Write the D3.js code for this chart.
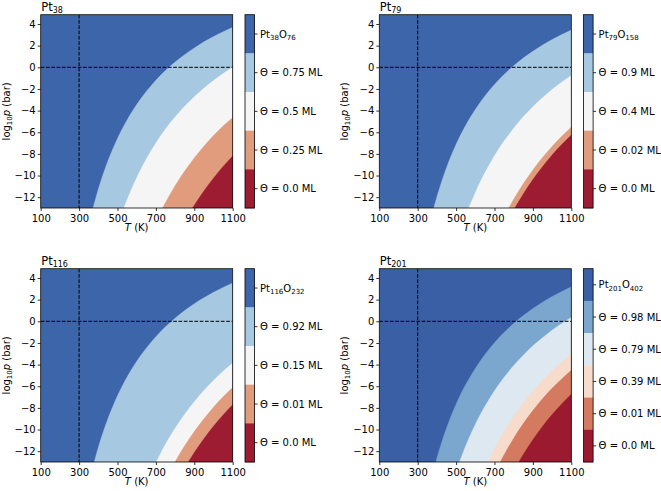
<!DOCTYPE html>
<html><head><meta charset="utf-8">
<script src="https://cdn.jsdelivr.net/npm/d3@7"></script>
<style>body{margin:0;background:#fff}text{font-family:"DejaVu Sans",sans-serif;fill:#000}</style>
</head><body><svg id="c" width="661" height="491"></svg>
<script>
// ---- data ----
const tempTicks = [100, 300, 500, 700, 900, 1100];
const pressureTicks = [-12, -10, -8, -6, -4, -2, 0, 2, 4];
const tempDomain = [100, 1100];
const pressureDomain = [-13, 4.86];
const refTemp = 300;
const refPressure = 0;

const clusterSizes = ["38", "79", "116", "201"];
const oxideSubs = [["38", "76"], ["79", "158"], ["116", "232"], ["201", "402"]];

const coveragePt38 = ["0.75", "0.5", "0.25", "0.0"];
const coveragePt79 = ["0.9", "0.4", "0.02", "0.0"];
const coveragePt116 = ["0.92", "0.15", "0.01", "0.0"];
const coveragePt201 = ["0.98", "0.79", "0.39", "0.01", "0.0"];

const colorsPt38 = ["#3d65a9", "#a6c8e1", "#f5f5f5", "#e09c7c", "#9e1c31"];
const colorsPt79 = ["#3d65a9", "#a6c8e1", "#f5f5f5", "#e09c7c", "#9e1c31"];
const colorsPt116 = ["#3d65a9", "#a6c8e1", "#f5f5f5", "#e09c7c", "#9e1c31"];
const colorsPt201 = ["#3a5fa5", "#7ba7cf", "#dde8f1", "#f8dccb", "#d47a60", "#9b1a2f"];

// phase boundaries: [T (K), log10 p (bar)]
const boundsPt38 = [
  [[372.5,-13],[400,-11.27],[450,-8.66],[500,-6.57],[550,-4.86],[600,-3.43],[700,-1.19],[800,0.48],[900,1.79],[1000,2.84],[1100,3.69]],
  [[533.4,-13],[550,-12.24],[600,-10.20],[650,-8.47],[700,-6.99],[750,-5.71],[800,-4.59],[850,-3.60],[900,-2.72],[950,-1.93],[1000,-1.22],[1050,-0.58],[1100,0.00]],
  [[735,-13],[750,-12.50],[800,-10.95],[850,-9.59],[900,-8.37],[950,-7.29],[1000,-6.31],[1050,-5.43],[1100,-4.63]],
  [[890.8,-13],[900,-12.74],[950,-11.43],[1000,-10.24],[1050,-9.17],[1100,-8.20]]
];
const boundsPt79 = [
  [[383.6,-13],[400,-11.96],[450,-9.27],[500,-7.12],[550,-5.36],[600,-3.90],[700,-1.59],[800,0.14],[900,1.48],[1000,2.56],[1100,3.44]],
  [[566.2,-13],[600,-11.58],[650,-9.75],[700,-8.18],[750,-6.82],[800,-5.63],[850,-4.58],[900,-3.64],[950,-2.81],[1000,-2.05],[1050,-1.37],[1100,-0.75]],
  [[774.6,-13],[800,-12.20],[850,-10.76],[900,-9.49],[950,-8.34],[1000,-7.31],[1050,-6.38],[1100,-5.54]],
  [[806.4,-13],[825,-12.43],[850,-11.70],[900,-10.37],[950,-9.18],[1000,-8.11],[1050,-7.14],[1100,-6.26]]
];
const boundsPt116 = [
  [[378.8,-13],[400,-11.66],[450,-9.01],[500,-6.88],[550,-5.15],[600,-3.70],[700,-1.42],[800,0.29],[900,1.62],[1000,2.68],[1100,3.55]],
  [[701.3,-13],[725,-12.18],[750,-11.36],[800,-9.89],[850,-8.59],[900,-7.43],[950,-6.40],[1000,-5.46],[1050,-4.62],[1100,-3.85]],
  [[799.6,-13],[825,-12.22],[850,-11.50],[900,-10.19],[950,-9.01],[1000,-7.94],[1050,-6.98],[1100,-6.11]],
  [[869,-13],[900,-12.13],[950,-10.85],[1000,-9.69],[1050,-8.65],[1100,-7.70]]
];
const boundsPt201 = [
  [[394.3,-13],[400,-12.64],[425,-11.18],[450,-9.87],[500,-7.66],[550,-5.85],[600,-4.35],[700,-1.98],[800,-0.20],[900,1.18],[1000,2.29],[1100,3.19]],
  [[517.5,-13],[550,-11.51],[600,-9.53],[650,-7.86],[700,-6.42],[750,-5.18],[800,-4.09],[850,-3.13],[900,-2.27],[950,-1.51],[1000,-0.82],[1050,-0.20],[1100,0.36]],
  [[666.5,-13],[700,-11.79],[750,-10.19],[800,-8.79],[850,-7.55],[900,-6.45],[950,-5.47],[1000,-4.58],[1050,-3.78],[1100,-3.05]],
  [[730.3,-13],[750,-12.34],[800,-10.80],[850,-9.45],[900,-8.24],[950,-7.16],[1000,-6.19],[1050,-5.32],[1100,-4.52]],
  [[826.6,-13],[850,-12.30],[900,-10.94],[950,-9.72],[1000,-8.62],[1050,-7.63],[1100,-6.73]]
];

const panelsData = [
  {bounds: boundsPt38, colors: colorsPt38, cov: coveragePt38},
  {bounds: boundsPt79, colors: colorsPt79, cov: coveragePt79},
  {bounds: boundsPt116, colors: colorsPt116, cov: coveragePt116},
  {bounds: boundsPt201, colors: colorsPt201, cov: coveragePt201}
];

// ---- layout ----
const svg = d3.select("#c");
const PW = 192, PH = 193.3;
const origins = [[40.7, 14.7], [379.3, 14.7], [40.7, 268.7], [379.3, 268.7]];
const CB_DX = 204.3, CB_W = 9.5;

function appendSub(textSel, parts, size, subSize, shift) {
  let cur = 0;
  parts.forEach(([t, sub]) => {
    const target = sub ? shift : 0;
    textSel.append("tspan").text(t)
      .attr("font-size", sub ? subSize : size)
      .attr("dy", target - cur);
    cur = target;
  });
}

panelsData.forEach((pd, i) => {
  const [ox, oy] = origins[i];
  const g = svg.append("g").attr("transform", `translate(${ox},${oy})`);
  const x = d3.scaleLinear().domain(tempDomain).range([0, PW]);
  const y = d3.scaleLinear().domain(pressureDomain).range([PH, 0]);

  const clipId = "clip" + i;
  g.append("clipPath").attr("id", clipId).append("rect").attr("width", PW).attr("height", PH);
  const pg = g.append("g").attr("clip-path", `url(#${clipId})`);

  pg.append("rect").attr("width", PW).attr("height", PH).attr("fill", pd.colors[0]);
  const area = d3.area()
    .x(d => x(d[0])).y0(y(pressureDomain[0]) + 2).y1(d => y(d[1]))
    .curve(d3.curveMonotoneX);
  pd.bounds.forEach((b, k) => {
    pg.append("path").datum(b).attr("d", area)
      .attr("fill", pd.colors[k + 1])
      .attr("stroke", pd.colors[k + 1]).attr("stroke-width", 0.4);
  });

  // dashed reference lines
  pg.append("line").attr("x1", x(refTemp)).attr("x2", x(refTemp)).attr("y1", 0).attr("y2", PH)
    .attr("stroke", "#000").attr("stroke-width", 1).attr("stroke-dasharray", "3.7,1.6");
  pg.append("line").attr("x1", 0).attr("x2", PW).attr("y1", y(refPressure)).attr("y2", y(refPressure))
    .attr("stroke", "#000").attr("stroke-width", 1).attr("stroke-dasharray", "3.7,1.6");

  // axes
  const ax = g.append("g").attr("transform", `translate(0,${PH})`)
    .call(d3.axisBottom(x).tickValues(tempTicks).tickSize(3).tickPadding(3.5).tickFormat(d3.format("d")));
  const ay = g.append("g")
    .call(d3.axisLeft(y).tickValues(pressureTicks).tickSize(3).tickPadding(2));
  [ax, ay].forEach(a => {
    a.select(".domain").remove();
    a.selectAll("text").attr("font-size", 10).attr("font-family", "DejaVu Sans").attr("fill", "#000");
    a.selectAll("line").attr("stroke", "#000").attr("stroke-width", 0.8);
  });

  g.append("rect").attr("width", PW).attr("height", PH)
    .attr("fill", "none").attr("stroke", "#000").attr("stroke-width", 0.8);

  // title
  const title = g.append("text").attr("x", 0.5).attr("y", -3.9);
  appendSub(title, [["Pt", false], [clusterSizes[i], true]], 11.5, 8, 2.4);

  // x label
  const xl = g.append("text").attr("x", PW / 2).attr("y", PH + 23.5).attr("text-anchor", "middle").attr("font-size", 10);
  xl.append("tspan").attr("font-style", "italic").text("T");
  xl.append("tspan").text(" (K)");

  // y label
  const yl = g.append("text").attr("transform", `translate(-31.2,${PH / 2}) rotate(-90)`)
    .attr("text-anchor", "middle").attr("font-size", 10);
  yl.append("tspan").text("log");
  yl.append("tspan").attr("font-size", 7).attr("dy", 2).text("10");
  yl.append("tspan").attr("dy", -2).attr("font-style", "italic").text("p");
  yl.append("tspan").text(" (bar)");

  // colorbar
  const n = pd.colors.length;
  const cb = g.append("g").attr("transform", `translate(${CB_DX},0)`);
  const cy = d3.scaleBand().domain(d3.range(n)).range([0, PH]).paddingInner(0).paddingOuter(0);
  cb.selectAll("rect.seg").data(d3.range(n)).join("rect").attr("class", "seg")
    .attr("x", 0).attr("width", CB_W)
    .attr("y", k => cy(k)).attr("height", cy.bandwidth() + 0.3)
    .attr("fill", k => pd.colors[k]);
  cb.append("rect").attr("width", CB_W).attr("height", PH)
    .attr("fill", "none").attr("stroke", "#000").attr("stroke-width", 0.8);
  const labels = [null].concat(pd.cov);
  labels.forEach((lab, k) => {
    const yc = cy(k) + cy.bandwidth() / 2;
    cb.append("line").attr("x1", CB_W).attr("x2", CB_W + 3).attr("y1", yc).attr("y2", yc)
      .attr("stroke", "#000").attr("stroke-width", 0.8);
    const t = cb.append("text").attr("x", CB_W + 5.5).attr("y", yc + 3.6).attr("font-size", 10);
    if (lab === null) {
      const [a, b] = oxideSubs[i];
      appendSub(t, [["Pt", false], [a, true], ["O", false], [b, true]], 10, 7, 2.2);
    } else {
      t.text("\u0398 = " + lab + " ML");
    }
  });
});
</script></body></html>
